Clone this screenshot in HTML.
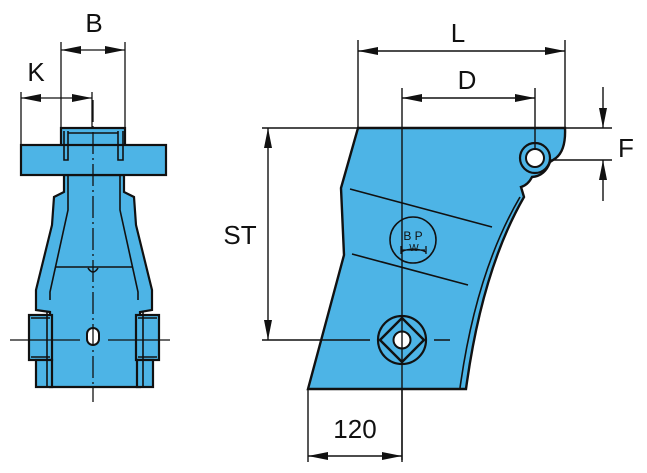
<!DOCTYPE html>
<html><head><style>html,body{margin:0;padding:0;background:#fff}svg{display:block}</style></head><body>
<svg width="647" height="473" viewBox="0 0 647 473" xmlns="http://www.w3.org/2000/svg" font-family="Liberation Sans, Arial, sans-serif">
<defs>
<marker id="b" viewBox="0 0 20 8" refX="20" refY="4" markerWidth="20" markerHeight="8" orient="auto-start-reverse" markerUnits="userSpaceOnUse"><path d="M0,0 L20,4 L0,8 z" fill="#111"/></marker>
</defs>
<g stroke="#111" fill="none">
<!-- LEFT VIEW -->
<g fill="#4db4e6" stroke-width="2.2">
<rect x="61" y="128" width="64" height="18"/>
<path d="M64,175 L124,175 L124,192 L134,197 L136,225 L152,290 L152,310 L140,312 L140,387 L50,387 L50,312 L36,310 L36,290 L52,225 L54,197 L64,192 Z"/>
<rect x="21" y="145" width="145" height="30"/>
<rect x="29" y="315" width="23" height="45"/>
<rect x="136" y="315" width="23" height="45"/>
<rect x="36" y="360" width="16" height="27"/>
<rect x="137" y="360" width="16" height="27"/>
</g>
<g stroke-width="1.6">
<path d="M64,131 L64,160 L68,160 L68,131 M118,131 L118,160 L123,160 L123,131 M68,133 L118,133"/>
<path d="M68,175 L68,210 L50,292 L50,300 M120,175 L120,210 L138,292 L138,300"/>
<path d="M55,267 L133,267"/>
<path d="M88,268 Q93,276 98,268"/>
<path d="M47,312 L47,387 M143,312 L143,387"/>
<path d="M31,318 L50,318 M138,318 L157,318 M31,357 L50,357 M138,357 L157,357"/>
</g>
<rect x="87" y="328" width="12" height="17" rx="6" fill="#fff" stroke-width="2"/>
<g stroke-width="1.3">
<path d="M93,100 L93,402" stroke-dasharray="22,4,2,4"/>
<path d="M10,340 L80,340 M108,340 L170,340"/>
<path d="M61,42 L61,128 M125,42 L125,128 M21,92 L21,144 M92,92 L92,128"/>
<path d="M61,50 L125,50" marker-start="url(#b)" marker-end="url(#b)"/>
<path d="M21,98 L92,98" marker-start="url(#b)" marker-end="url(#b)"/>
</g>
<!-- RIGHT VIEW -->
<path d="M358,128 L565,128 Q566,150 556,158 L550,162 Q545,176 532,177 Q528,185 521,187 L524,197 Q482,270 466,389 L308,389 L344,255 L341,188 Z" fill="#4db4e6" stroke-width="2.4"/>
<path d="M520,197 Q476,272 460,388" stroke-width="1.6"/>
<circle cx="535" cy="158" r="15" fill="#4db4e6" stroke-width="2.2"/>
<circle cx="535" cy="158" r="9" fill="#fff" stroke-width="2"/>
<path d="M350,189 L492,227 M352,254 L468,285" stroke-width="1.6"/>
<circle cx="413" cy="240" r="23" stroke-width="1.6"/>
<path d="M402,250 L425,250 M401,246 L401,254 M426,246 L426,254 M401,252 Q413,246 426,252" stroke-width="1.3"/>
<text x="413" y="240" font-size="12" text-anchor="middle" fill="#111" stroke="none">B P</text>
<text x="414" y="251" font-size="10" text-anchor="middle" fill="#111" stroke="none">W</text>
<circle cx="402" cy="340" r="24" fill="#4db4e6" stroke-width="2.2"/>
<path d="M402,318 L424,340 L402,362 L380,340 Z" stroke-width="2.4"/>
<circle cx="402" cy="340" r="8.5" fill="#fff" stroke-width="2"/>
<g stroke-width="1.4">
<path d="M402,88 L402,460"/>
<path d="M262,340 L370,340 M434,340 L450,340"/>
<path d="M262,128 L358,128 M565,128 L612,128 M550,160 L612,160"/>
<path d="M358,40 L358,128 M565,40 L565,128 M535,88 L535,150 M308,389 L308,462 M402,389 L402,462"/>
<path d="M358,51 L565,51" marker-start="url(#b)" marker-end="url(#b)"/>
<path d="M402,98 L535,98" marker-start="url(#b)" marker-end="url(#b)"/>
<path d="M268,128 L268,340" marker-start="url(#b)" marker-end="url(#b)"/>
<path d="M308,456 L402,456" marker-start="url(#b)" marker-end="url(#b)"/>
<path d="M603,87 L603,128" marker-end="url(#b)"/>
<path d="M603,201 L603,160" marker-end="url(#b)"/>
</g>
</g>
<g font-size="26" fill="#111" text-anchor="middle">
<text x="94" y="32">B</text>
<text x="36" y="81">K</text>
<text x="458" y="42">L</text>
<text x="467" y="89">D</text>
<text x="626" y="157">F</text>
<text x="240" y="244">ST</text>
<text x="355" y="438">120</text>
</g>
</svg>
</body></html>
